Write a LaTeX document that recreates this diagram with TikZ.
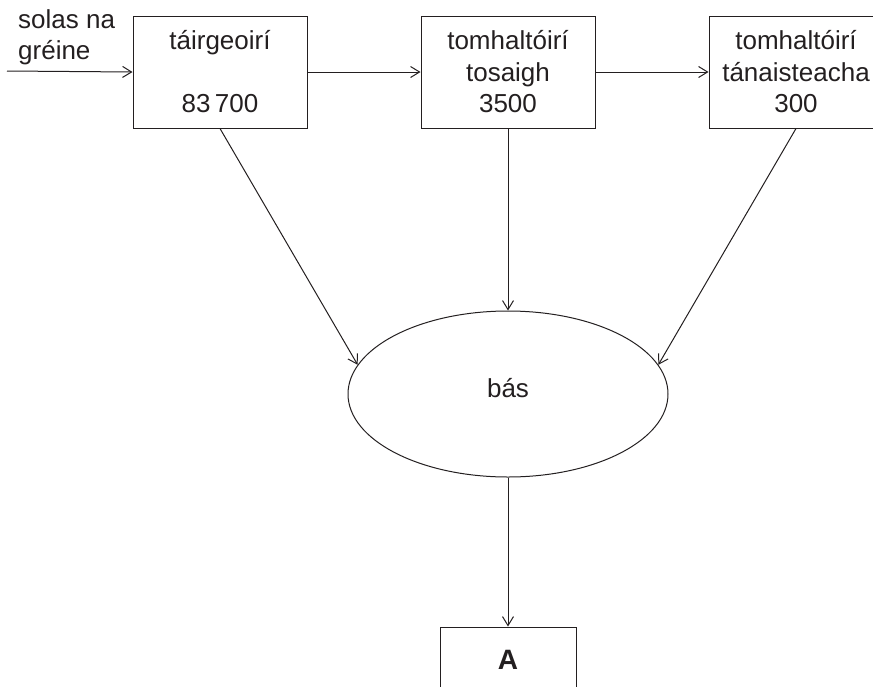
\documentclass[tikz,border=0pt]{standalone}
\usepackage{fontspec}
\setmainfont{Liberation Sans}
\usetikzlibrary{shapes.geometric,arrows.meta}
\definecolor{ink}{HTML}{231F20}
\begin{document}
\begin{tikzpicture}[x={(1pt,0)},y={(0,-1pt)},
  every node/.style={text=ink,font=\fontsize{26}{31.5}\selectfont},
  box/.style={draw=ink,line width=1pt,rectangle,minimum width=174,minimum height=112,align=center,inner sep=0},
  arr/.style={draw=ink,line width=1pt,-{Straight Barb[length=9pt,width=11pt,line width=1pt]}}]
\useasboundingbox (0,0) rectangle (873,686);
\node[box] (prod) at (220,72) {táirgeoirí\\ \\83\,700};
\node[box] (prim) at (508,72) {tomhaltóirí\\tosaigh\\3500};
\node[box] (sec) at (796,72) {tomhaltóirí\\tánaisteacha\\300};
\node[draw=ink,line width=1pt,ellipse,minimum width=320,minimum height=166,inner sep=0] (bas) at (508,394) {};
\node[anchor=base,inner sep=0] (bastext) at (508,397) {bás};
\node[draw=ink,line width=1pt,rectangle,minimum width=136,minimum height=66,inner sep=0,font=\fontsize{28}{31.5}\selectfont\bfseries] (A) at (508,660) {A};
\node[anchor=north west,inner sep=0,align=left] (sun) at (18,9) {solas na\\gréine};
\coordinate (in) at (7,71);
\draw[arr] (in) -- (prod.west);
\draw[arr] (prod.east) -- (prim.west);
\draw[arr] (prim.east) -- (sec.west);
\draw[arr] (prod.south) -- (bas.169);
\draw[arr] (prim.south) -- (bas.north);
\draw[arr] (sec.south) -- (bas.11);
\draw[arr] (bas.south) -- (A.north);
\end{tikzpicture}
\end{document}
